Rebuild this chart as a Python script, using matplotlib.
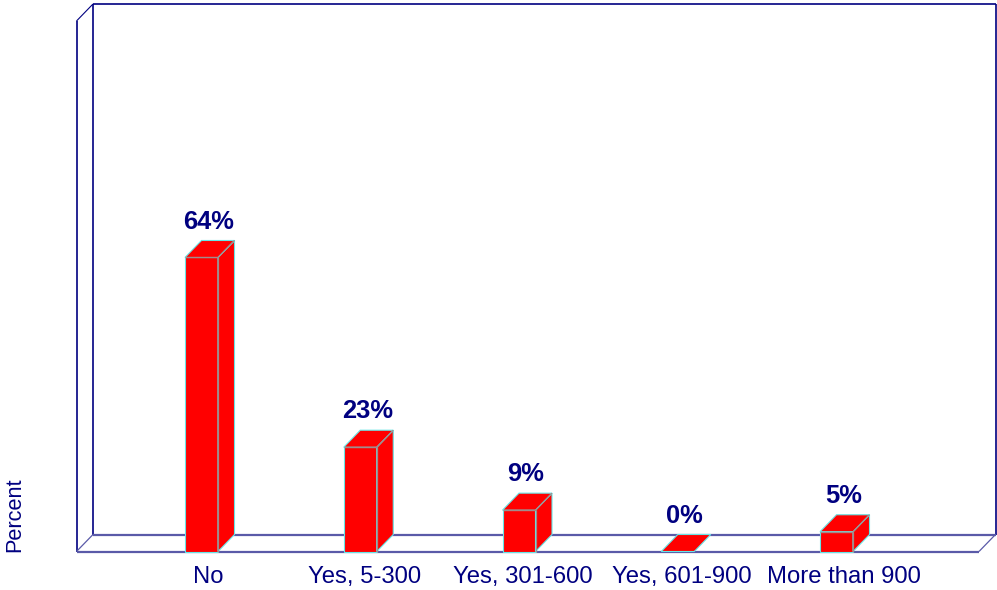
import matplotlib
matplotlib.use("Agg")
import matplotlib.pyplot as plt
from matplotlib.patches import Polygon

categories = ["No", "Yes, 5-300", "Yes, 301-600", "Yes, 601-900", "More than 900"]
values = [64, 22.7, 9, 0, 4.3]
value_labels = ["64%", "23%", "9%", "0%", "5%"]

W, H = 997, 590
NAVY = "#000080"
RED = "#ff0000"
CYAN = "#66e6e6"
GREY = "#a08c8c"
FLOOR = "#5a5aa8"
plt.rcParams["font.family"] = ["Liberation Sans", "DejaVu Sans"]

fig = plt.figure(figsize=(W / 100, H / 100), dpi=100, facecolor="white")
ax = fig.add_axes([76.5 / W, (H - 551.5) / H, (995.5 - 76.5) / W, (551.5 - 4) / H])
px_x, px_y = 158.75, 4.594
xmin, xmax = (76.5 - 201.5) / px_x, (995.5 - 201.5) / px_x
ymax = (551.5 - 4) / px_y
ax.set_xlim(xmin, xmax)
ax.set_ylim(0, ymax)
ax.patch.set_visible(False)
for s in ax.spines.values():
    s.set_visible(False)

dx, dy = 16.5 / px_x, 17 / px_y
bw = 33 / px_x
xfront = (979 - 201.5) / px_x

def ln(xs, ys, c=NAVY, lw=1.2, z=1):
    ax.plot(xs, ys, color=c, lw=lw, clip_on=False, zorder=z, solid_capstyle="butt")

# 3D box walls
ln([xmax, xmax], [dy, ymax])                         # right wall
ln([xmin + dx, xmin + dx], [dy, ymax])               # back left edge
ln([xmin + dx, xmax], [ymax, ymax])                  # back top edge
ln([xmin, xmin], [0, ymax - dy])                     # front left edge
ln([xmin, xmin + dx], [ymax - dy, ymax], lw=0.8)     # top-left diagonal
ln([xmin, xmin + dx], [0, dy], c=FLOOR, lw=0.9)      # floor left diagonal
ln([xfront, xmax], [0, dy], c=FLOOR, lw=0.9)         # floor right diagonal
ln([xmin, xfront], [0, 0], c=FLOOR, lw=1.6)          # floor front edge
ln([xmin + dx, xmax], [dy, dy], c=FLOOR, lw=1.6)     # floor back edge

# Bars
for i, v in enumerate(values):
    l, r = i - bw / 2, i + bw / 2
    if v > 0:
        ax.bar(i, v, width=bw, color=RED, edgecolor=CYAN, linewidth=0.8, zorder=3, clip_on=False)
        ax.add_patch(Polygon([(r, 0), (r + dx, dy), (r + dx, v + dy), (r, v)],
                             facecolor=RED, edgecolor=CYAN, lw=0.8, zorder=3, clip_on=False))
    ax.add_patch(Polygon([(l, v), (r, v), (r + dx, v + dy), (l + dx, v + dy)],
                         facecolor=RED, edgecolor=CYAN, lw=0.8, zorder=4, clip_on=False))
    if v > 0:
        ln([l, r], [v, v], c=GREY, lw=0.9, z=5)
        ln([r, r], [0, v], c=GREY, lw=0.9, z=5)
        ln([r, r + dx], [v, v + dy], c=GREY, lw=0.9, z=5)
    ax.annotate(value_labels[i], xy=(i + dx / 2 + 0.003, v), xytext=(-1.2, 20.8),
                textcoords="offset points", ha="center", va="baseline",
                color=NAVY, fontsize=18.4, fontweight="bold", zorder=6)

# Axis text
tick_nudge = [0.04, 0.025, 0.025, 0.025, 0.045]
ax.set_xticks([i + tick_nudge[i] for i in range(len(categories))])
ax.set_xticklabels(categories, fontsize=17.2, color=NAVY)
ax.tick_params(axis="x", length=0, pad=10.5)
ax.set_yticks([])
ax.set_ylabel("Percent", loc="bottom", color=NAVY, fontsize=15.7, labelpad=37)

fig.savefig("out.png", dpi=100, facecolor="white")
